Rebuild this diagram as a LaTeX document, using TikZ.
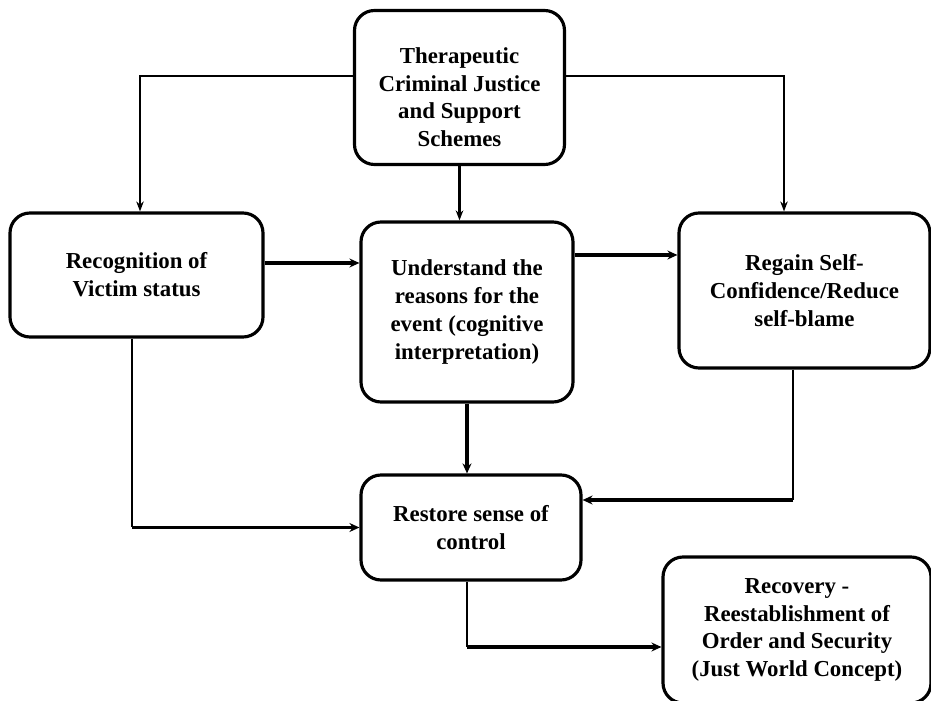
\documentclass[tikz,border=0pt]{standalone}
\usepackage{fontspec}
\setmainfont{Liberation Serif}
\usetikzlibrary{shapes.geometric, arrows.meta, positioning}
\tikzset{every node/.style={font=\normalfont}}

\begin{document}
\begin{tikzpicture}[every node/.style={font=\bfseries\fontsize{13}{15.8}\selectfont}]
    % Define styles
    \tikzstyle{stage} = [rectangle, rounded corners=0.4cm, text centered, align=center, draw=black, fill=white, line width=1.8pt, inner sep=2pt]
    \tikzstyle{feed} = [line width=0.6pt]
    \tikzstyle{link_arrow} = [line width=2pt, -{Stealth[length=2mm, width=1.8mm]}]
    \tikzstyle{thin_arrow} = [line width=0.8pt, -{Stealth[length=2mm, width=1.5mm]}]

    \useasboundingbox (0,0) rectangle (18.62,14);

    % Criminal justice schemes at top
    \node (schemes) [stage, minimum width=4.2cm, minimum height=3.08cm] at (9.19, 12.25) {\rule{0pt}{20pt}Therapeutic\\Criminal Justice\\and Support\\Schemes};

    % Middle row
    \node (recog) [stage, minimum width=5.06cm, minimum height=2.48cm] at (2.73, 8.5) {Recognition of\\Victim status};
    \node (underst) [stage, minimum width=4.24cm, minimum height=3.6cm] at (9.34, 7.76) {Understand the\\reasons for the\\event (cognitive\\interpretation)};
    \node (regain) [stage, minimum width=5.02cm, minimum height=3.1cm] at (16.09, 8.19) {Regain Self-\\Confidence/Reduce\\self-blame};

    % Control and recovery
    \node (restore) [stage, minimum width=4.4cm, minimum height=2.1cm] at (9.42, 3.45) {Restore sense of\\control};
    \node (recovery) [stage, minimum width=5.36cm, minimum height=2.92cm] at (15.94, 1.4) {Recovery -\\Reestablishment of\\Order and Security\\(Just World Concept)};

    % Exit points
    \coordinate (schemesleft) at ([yshift=0.23cm]schemes.west);
    \coordinate (schemesright) at ([yshift=0.23cm]schemes.east);
    \coordinate (recogtop) at ([xshift=0.07cm]recog.north);
    \coordinate (regaintop) at ([xshift=-0.41cm]regain.north);
    \coordinate (recogout) at ([yshift=0.24cm]recog.east);
    \coordinate (understout) at ([yshift=1.14cm]underst.east);
    \coordinate (recogdown) at ([xshift=-0.09cm]recog.south);
    \coordinate (regaindown) at ([xshift=-0.23cm]regain.south);
    \coordinate (restorein) at ([yshift=0.55cm]restore.east);
    \coordinate (restoredown) at ([xshift=-0.08cm]restore.south);
    \coordinate (recoveryin) at ([yshift=-0.34cm]recovery.west);

    % Schemes feeding the middle row
    \draw [thin_arrow] (schemesleft) -| (recogtop);
    \draw [thin_arrow] (schemesright) -| (regaintop);
    \draw [thin_arrow, line width=1.2pt] (schemes.south) -- (schemes.south |- underst.north);

    % Middle row links
    \draw [link_arrow] (recogout) -- (recogout -| underst.west);
    \draw [link_arrow] (understout) -- (understout -| regain.west);
    \draw [link_arrow] (underst.south) -- (underst.south |- restore.north);

    % Into restore sense of control
    \coordinate (recogturn) at (recogdown |- restore.west);
    \draw [feed] (recogdown) -- (recogturn);
    \draw [link_arrow] (recogturn) -- (restore.west);

    \coordinate (regainturn) at (regaindown |- restorein);
    \draw [feed] (regaindown) -- (regainturn);
    \draw [link_arrow] (regainturn) -- (restorein);

    % Towards recovery
    \coordinate (restoreturn) at (restoredown |- recoveryin);
    \draw [feed] (restoredown) -- (restoreturn);
    \draw [link_arrow] (restoreturn) -- (recoveryin);
\end{tikzpicture}
\end{document}
